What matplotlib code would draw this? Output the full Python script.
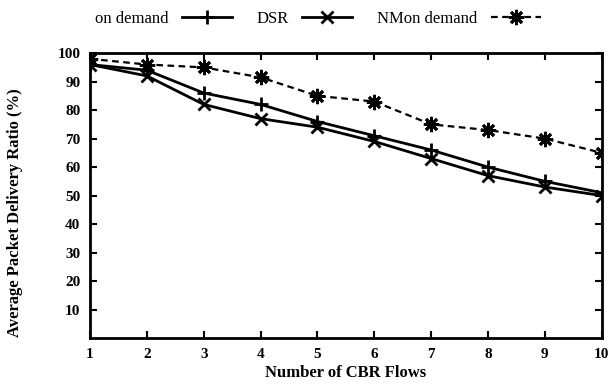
import matplotlib
matplotlib.use("Agg")
import matplotlib.pyplot as plt

flows = [1, 2, 3, 4, 5, 6, 7, 8, 9, 10]
on_demand = [96, 94, 86, 82, 76, 71, 66, 60, 55, 51]
dsr = [96, 92, 82, 77, 74, 69, 63, 57, 53, 50]
nm_on_demand = [98, 96, 95, 91.5, 85, 83, 75, 73, 70, 65]
y_ticks = [10, 20, 30, 40, 50, 60, 70, 80, 90, 100]

plt.rcParams['font.family'] = ['Liberation Serif', 'DejaVu Serif']

fig = plt.figure(figsize=(6.14, 3.85), dpi=100)
ax = fig.add_axes([0.1466, 0.122, 0.8334, 0.74])

ax.plot(flows, on_demand, color='black', lw=2, marker='+', ms=10, mew=2, label='on demand')
ax.plot(flows, dsr, color='black', lw=2, marker='x', ms=8, mew=2, label='DSR')
ax.plot(flows, nm_on_demand, color='black', lw=1.6, ls=(0, (3, 2)), marker=(8, 2, 0),
        ms=11, mew=2, label='NMon demand')

ax.set_xlim(1, 10)
ax.set_ylim(0, 100)
ax.set_xticks(flows)
ax.set_yticks(y_ticks)
ax.tick_params(direction='in', top=True, right=True, length=5, width=1.5, labelsize=11, pad=7)
for lbl in ax.get_xticklabels() + ax.get_yticklabels():
    lbl.set_fontweight('bold')
for s in ax.spines.values():
    s.set_linewidth(2)

ax.set_xlabel('Number of CBR Flows', fontsize=12, fontweight='bold')
ax.set_ylabel('Average Packet Delivery Ratio (%)', fontsize=12, fontweight='bold')
ax.yaxis.set_label_coords(-0.13, 0.44)
ax.xaxis.set_label_coords(0.5, -0.095)

ax.legend(loc='lower center', bbox_to_anchor=(0.445, 1.04), ncol=3, frameon=False,
          markerfirst=False, fontsize=12, handlelength=3, columnspacing=1.5)

fig.savefig('out.png', dpi=100)
